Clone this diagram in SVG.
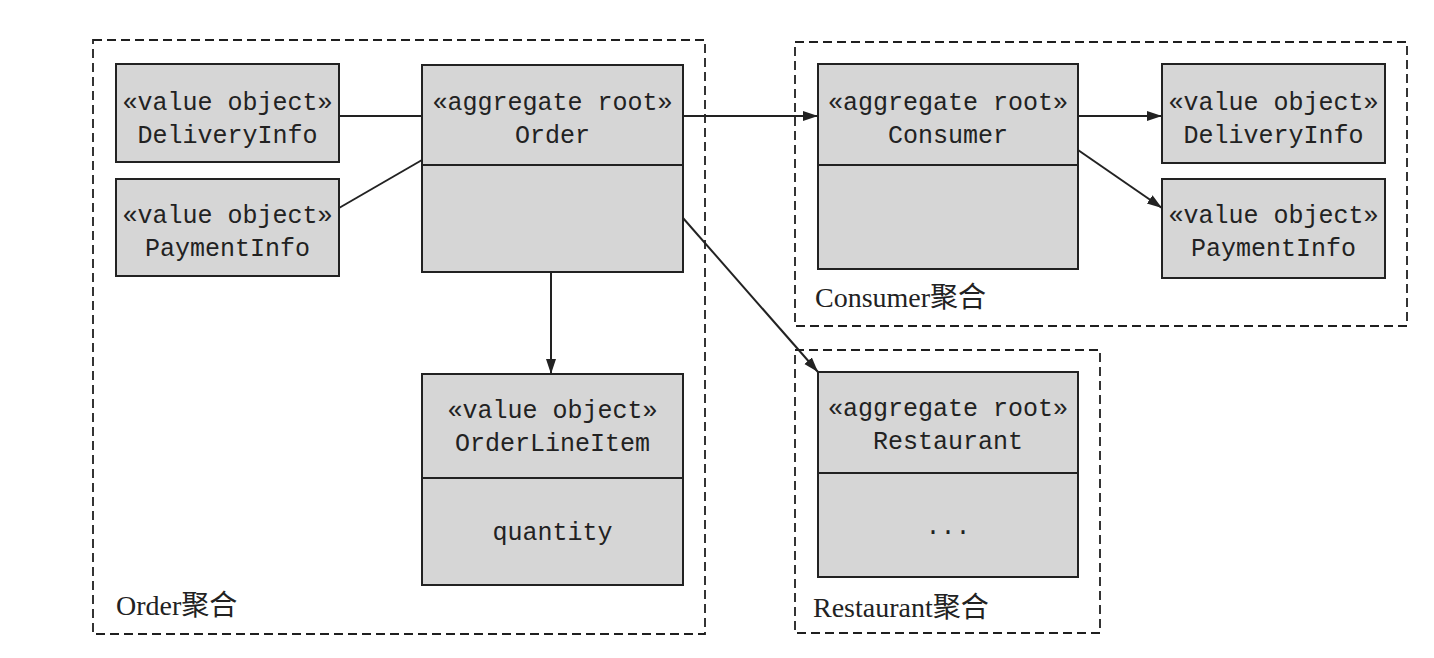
<svg xmlns="http://www.w3.org/2000/svg" width="1434" height="658" viewBox="0 0 1434 658">
<defs>
<style>
.agg{fill:none;stroke:#1f1f1f;stroke-width:1.8;stroke-dasharray:9 5}
.box{fill:#d6d6d6;stroke:#222;stroke-width:2}
.div{stroke:#222;stroke-width:2}
.mono{font-family:"Liberation Mono","DejaVu Sans Mono",monospace;font-size:25px;fill:#222;text-anchor:middle}
.lbl{font-family:"Liberation Serif","Noto Sans CJK SC",serif;font-size:28px;fill:#222}
.conn{stroke:#222;stroke-width:2;fill:none}
</style>
<marker id="arr" markerUnits="userSpaceOnUse" markerWidth="16" markerHeight="12" refX="15" refY="6" orient="auto">
<path d="M0,1 L15,6 L0,11 z" fill="#222"/>
</marker>
</defs>
<rect width="1434" height="658" fill="#ffffff"/>

<g id="order-aggregate">
<rect class="agg" x="93" y="40" width="612" height="594"/>
<text class="lbl" x="116" y="615">Order聚合</text>
</g>
<g id="consumer-aggregate">
<rect class="agg" x="795" y="42" width="612" height="284"/>
<text class="lbl" x="815" y="307">Consumer聚合</text>
</g>
<g id="restaurant-aggregate">
<rect class="agg" x="795" y="350" width="305" height="283"/>
<text class="lbl" x="813" y="617">Restaurant聚合</text>
</g>

<g id="deliveryinfo-left">
<rect class="box" x="116" y="64" width="223" height="98"/>
<text class="mono" x="227.5" y="110">«value object»</text>
<text class="mono" x="227.5" y="143">DeliveryInfo</text>
</g>
<g id="paymentinfo-left">
<rect class="box" x="116" y="179" width="223" height="97"/>
<text class="mono" x="227.5" y="223">«value object»</text>
<text class="mono" x="227.5" y="256">PaymentInfo</text>
</g>
<g id="order">
<rect class="box" x="422" y="65" width="261" height="207"/>
<line class="div" x1="422" y1="165" x2="683" y2="165"/>
<text class="mono" x="552.5" y="110">«aggregate root»</text>
<text class="mono" x="552.5" y="143">Order</text>
</g>
<g id="orderlineitem">
<rect class="box" x="422" y="374" width="261" height="211"/>
<line class="div" x1="422" y1="478" x2="683" y2="478"/>
<text class="mono" x="552.5" y="418">«value object»</text>
<text class="mono" x="552.5" y="451">OrderLineItem</text>
<text class="mono" x="552.5" y="540">quantity</text>
</g>
<g id="consumer">
<rect class="box" x="818" y="64" width="260" height="205"/>
<line class="div" x1="818" y1="165" x2="1078" y2="165"/>
<text class="mono" x="948" y="110">«aggregate root»</text>
<text class="mono" x="948" y="143">Consumer</text>
</g>
<g id="deliveryinfo-right">
<rect class="box" x="1162" y="64" width="223" height="99"/>
<text class="mono" x="1273.5" y="110">«value object»</text>
<text class="mono" x="1273.5" y="143">DeliveryInfo</text>
</g>
<g id="paymentinfo-right">
<rect class="box" x="1162" y="179" width="223" height="99"/>
<text class="mono" x="1273.5" y="223">«value object»</text>
<text class="mono" x="1273.5" y="256">PaymentInfo</text>
</g>
<g id="restaurant">
<rect class="box" x="818" y="372" width="260" height="205"/>
<line class="div" x1="818" y1="473" x2="1078" y2="473"/>
<text class="mono" x="948" y="416">«aggregate root»</text>
<text class="mono" x="948" y="449">Restaurant</text>
<text class="mono" x="948" y="534">...</text>
</g>

<g id="connectors">
<line class="conn" x1="339" y1="116" x2="422" y2="116"/>
<line class="conn" x1="339" y1="208" x2="422" y2="160"/>
<line class="conn" x1="683" y1="116" x2="818" y2="116" marker-end="url(#arr)"/>
<line class="conn" x1="551" y1="272" x2="551" y2="374" marker-end="url(#arr)"/>
<line class="conn" x1="683" y1="218" x2="818" y2="372" marker-end="url(#arr)"/>
<line class="conn" x1="1078" y1="116" x2="1162" y2="116" marker-end="url(#arr)"/>
<line class="conn" x1="1078" y1="150" x2="1162" y2="208" marker-end="url(#arr)"/>
</g>
</svg>
